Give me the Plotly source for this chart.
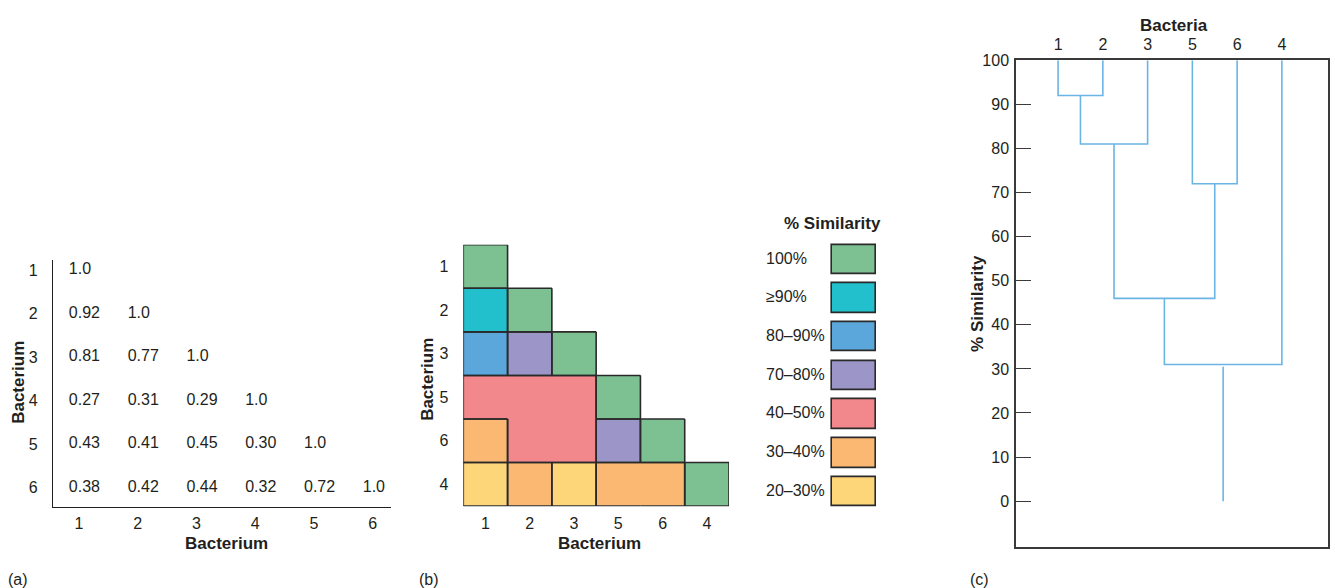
import plotly.graph_objects as go

W, H = 1335, 588
INK = "#231f20"
FONT = "Liberation Sans, Arial, sans-serif"

# ---- data -------------------------------------------------------------
bacteria = ["1", "2", "3", "4", "5", "6"]

# lower-triangular similarity matrix: row i holds S(i, 1..i)
sim_rows = [
    [1.0],
    [0.92, 1.0],
    [0.81, 0.77, 1.0],
    [0.27, 0.31, 0.29, 1.0],
    [0.43, 0.41, 0.45, 0.30, 1.0],
    [0.38, 0.42, 0.44, 0.32, 0.72, 1.0],
]

# order of the bacteria after clustering
cluster_order = ["1", "2", "3", "5", "6", "4"]

# similarity classes (lower bound of each band) and their colours
class_labels = ["100%", "\u226590%", "80\u201390%", "70\u201380%",
                "40\u201350%", "30\u201340%", "20\u201330%"]
class_lower = [1.0, 0.9, 0.8, 0.7, 0.4, 0.3, 0.2]
class_colors = ["#7dc193", "#22bfcd", "#5ba7db", "#9c95c8",
                "#f2878c", "#fab873", "#fed67a"]

# dendrogram joins (% similarity at which two clusters merge)
merge_left = ["1", "1+2", "5", "1+2+3", "1+2+3+5+6"]
merge_right = ["2", "3", "6", "5+6", "4"]
merge_height = [92, 81, 72, 46, 31]
dendro_ticks = [0, 10, 20, 30, 40, 50, 60, 70, 80, 90, 100]


def sim(a, b):
    i, j = bacteria.index(a), bacteria.index(b)
    if j > i:
        i, j = j, i
    return sim_rows[i][j]


def sim_class(v):
    for k, lo in enumerate(class_lower):
        if v >= lo - 1e-9:
            return k
    return len(class_lower) - 1


def px_x(p):
    return p / W


def px_y(p):
    return 1 - p / H


fig = go.Figure()

# ---- (a) similarity matrix as text -----------------------------------
tx, ty, tt = [], [], []
for i, row in enumerate(sim_rows):
    for j, v in enumerate(row):
        tx.append(j + 1 - 0.17)
        ty.append(i + 1)
        tt.append("1.0" if v == 1.0 else f"{v:.2f}")
fig.add_trace(go.Scatter(
    x=tx, y=ty, text=tt, mode="text", textposition="middle right",
    textfont=dict(size=16, color=INK, family=FONT),
    hoverinfo="skip", showlegend=False, xaxis="x", yaxis="y"))

# ---- (b) shaded similarity matrix -------------------------------------
n = len(cluster_order)
z = [[None] * n for _ in range(n)]
for r in range(n):
    for c in range(r + 1):
        z[r][c] = sim_class(sim(cluster_order[r], cluster_order[c]))

nc = len(class_colors)
cscale = []
for k, col in enumerate(class_colors):
    cscale.append([k / nc, col])
    cscale.append([(k + 1) / nc, col])

fig.add_trace(go.Heatmap(
    z=z, x=list(range(n)), y=list(range(n)), colorscale=cscale,
    zmin=-0.5, zmax=nc - 0.5, showscale=False, hoverinfo="skip",
    xaxis="x2", yaxis="y2"))

# outline only where neighbouring cells change class
bx, by = [], []


def cell(r, c):
    if 0 <= r < n and 0 <= c < n:
        return z[r][c]
    return None


for r in range(n):
    for c in range(n):
        v = z[r][c]
        if v is None:
            continue
        if cell(r, c - 1) != v:
            bx += [c - 0.5, c - 0.5, None]; by += [r - 0.5, r + 0.5, None]
        if cell(r, c + 1) != v:
            bx += [c + 0.5, c + 0.5, None]; by += [r - 0.5, r + 0.5, None]
        if cell(r - 1, c) != v:
            bx += [c - 0.5, c + 0.5, None]; by += [r - 0.5, r - 0.5, None]
        if cell(r + 1, c) != v:
            bx += [c - 0.5, c + 0.5, None]; by += [r + 0.5, r + 0.5, None]
fig.add_trace(go.Scatter(
    x=bx, y=by, mode="lines", line=dict(color="#2a2a2a", width=1.6),
    hoverinfo="skip", showlegend=False, xaxis="x2", yaxis="y2"))

# key swatches
fig.add_trace(go.Bar(
    x=[1] * nc, y=list(range(nc)), base=1.5, orientation="h", width=0.76,
    marker=dict(color=class_colors, line=dict(color="#2a2a2a", width=1.6)),
    hoverinfo="skip", showlegend=False, xaxis="x3", yaxis="y3"))
fig.add_trace(go.Scatter(
    x=[0] * nc, y=list(range(nc)), text=class_labels, mode="text",
    textposition="middle right",
    textfont=dict(size=16, color=INK, family=FONT),
    hoverinfo="skip", showlegend=False, xaxis="x3", yaxis="y3"))

# ---- (c) dendrogram ----------------------------------------------------
pos = {b: i + 1 for i, b in enumerate(cluster_order)}
height = {b: 100 for b in cluster_order}
lx, ly = [], []
for a, b, h in zip(merge_left, merge_right, merge_height):
    lx += [pos[a], pos[a], pos[b], pos[b], None]
    ly += [height[a], h, h, height[b], None]
    key = a + "+" + b
    pos[key] = (pos[a] + pos[b]) / 2
    height[key] = h
root = merge_left[-1] + "+" + merge_right[-1]
lx += [pos[root], pos[root]]
ly += [height[root] - 0.5, 0]
fig.add_trace(go.Scatter(
    x=lx, y=ly, mode="lines", line=dict(color="#6bb5e5", width=1.6),
    hoverinfo="skip", showlegend=False, xaxis="x4", yaxis="y4"))

# ---- layout ------------------------------------------------------------
tickfont = dict(size=16, color=INK, family=FONT)
fig.update_layout(
    width=W, height=H, margin=dict(l=0, r=0, t=0, b=0),
    paper_bgcolor="white", plot_bgcolor="white", showlegend=False,
    font=dict(family=FONT, color=INK),
    bargap=0,
    xaxis=dict(domain=[px_x(53), px_x(391)], range=[0.56, 6.31],
               tickvals=list(range(1, 7)), ticktext=bacteria,
               showgrid=False, zeroline=False, showline=True,
               linecolor=INK, linewidth=1.3, ticks="",
               tickfont=tickfont, ticklabelstandoff=2, anchor="y"),
    yaxis=dict(domain=[px_y(506), px_y(255)], range=[6.45, 0.75],
               tickvals=list(range(1, 7)), ticktext=bacteria,
               showgrid=False, zeroline=False, showline=True,
               linecolor=INK, linewidth=1.3, ticks="",
               tickfont=tickfont, ticklabelstandoff=11, anchor="x"),
    xaxis2=dict(domain=[px_x(463.3), px_x(729)], range=[-0.5, 5.5],
                tickvals=list(range(n)), ticktext=cluster_order,
                showgrid=False, zeroline=False, showline=False, ticks="",
                tickfont=tickfont, ticklabelstandoff=6, anchor="y2"),
    yaxis2=dict(domain=[px_y(505), px_y(240)], range=[5.5, -0.5],
                tickvals=list(range(n)), ticktext=cluster_order,
                showgrid=False, zeroline=False, showline=False, ticks="",
                tickfont=tickfont, ticklabelstandoff=14, anchor="x2"),
    xaxis3=dict(domain=[px_x(766), px_x(876)], range=[0, 2.5],
                visible=False, anchor="y3"),
    yaxis3=dict(domain=[px_y(510), px_y(235.4)], range=[nc - 0.5, -0.5],
                visible=False, anchor="x3"),
    xaxis4=dict(domain=[px_x(1016), px_x(1328)], range=[0.06, 7.03],
                side="top", tickvals=list(range(1, 7)),
                ticktext=cluster_order, showgrid=False, zeroline=False,
                showline=True, mirror=True, linecolor="#3a3a3a",
                linewidth=1.5, ticks="", tickfont=tickfont,
                ticklabelstandoff=2, anchor="y4"),
    yaxis4=dict(domain=[px_y(546), px_y(53)], range=[-10.3, 100],
                tickvals=dendro_ticks, showgrid=False, zeroline=False,
                showline=True, mirror=True, linecolor="#3a3a3a",
                linewidth=1.5, ticks="inside", ticklen=15, tickwidth=1.4,
                tickcolor="#3a3a3a", tickfont=tickfont,
                ticklabelstandoff=2, anchor="x4"),
)

ann = []


def label(text, x, y, bold=True, angle=0, xanchor="center", size=17):
    ann.append(dict(
        text=f"<b>{text}</b>" if bold else text, x=px_x(x), y=px_y(y),
        xref="paper", yref="paper", showarrow=False, textangle=angle,
        xanchor=xanchor, yanchor="middle",
        font=dict(size=size, color=INK, family=FONT)))


label("Bacterium", 226.7, 542.5)
label("Bacterium", 19, 380, angle=-90)
label("Bacterium", 599.5, 542.5)
label("Bacterium", 428, 377, angle=-90)
label("% Similarity", 832.5, 218)
label("Bacteria", 1174, 18)
label("% Similarity", 978, 300, angle=-90)
label("(a)", 6, 579, bold=False, xanchor="left", size=16)
label("(b)", 417, 579, bold=False, xanchor="left", size=16)
label("(c)", 968, 579, bold=False, xanchor="left", size=16)
fig.update_layout(annotations=ann)

fig.write_html("out.html")
